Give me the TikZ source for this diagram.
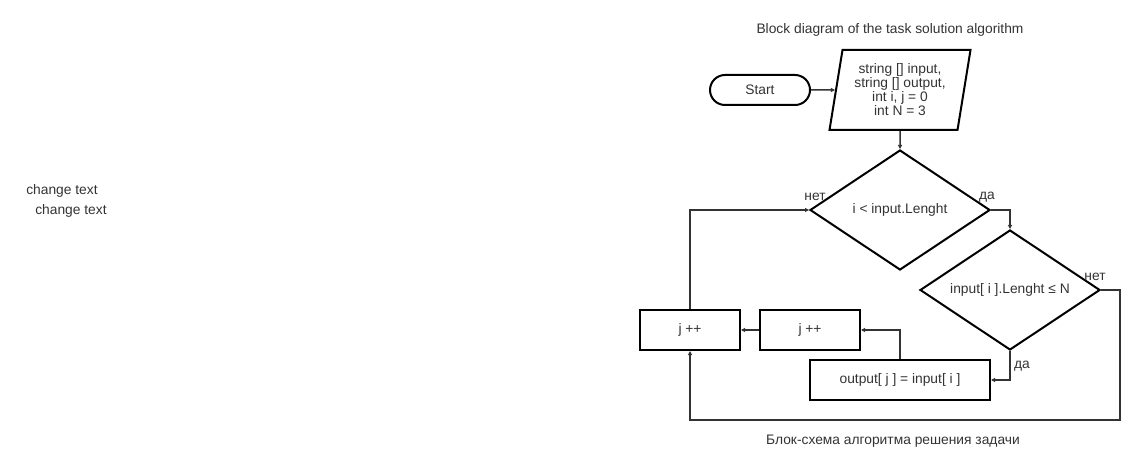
\documentclass[tikz,border=0pt]{standalone}
\usepackage{fontspec}
\setmainfont{Liberation Sans}
\usetikzlibrary{shapes.geometric,shapes.misc,arrows.meta}
\definecolor{linegray}{HTML}{333333}
\begin{document}
\begin{tikzpicture}[x=1pt,y=-1pt,
    font=\fontsize{13.8}{14}\selectfont,text=linegray,
    blockbox/.style={draw=black,line width=2pt,inner sep=0pt,align=center},
    procbox/.style={blockbox,rectangle,minimum height=40pt},
    testbox/.style={blockbox,diamond,aspect=1.5,minimum width=180pt,minimum height=120pt},
    link/.style={draw=linegray,line width=1.5pt,-{Triangle[length=4pt,width=4pt]}}]
  \useasboundingbox (0,0) rectangle (1140,470);
  \node (title) at (890,30) {Block diagram of the task solution algorithm};
  \node[blockbox,rounded rectangle,minimum width=100pt,minimum height=30pt] (start) at (760,90) {Start};
  \node[blockbox,trapezium,trapezium left angle=76,trapezium right angle=104,
        trapezium stretches body,minimum width=141pt,minimum height=80pt] (vars) at (900,90)
        {string [] input,\\string [] output,\\int i, j = 0\\int N = 3};
  \node[testbox] (loop) at (900,210) {i < input.Lenght};
  \node[testbox] (check) at (1010,290) {input[ i ].Lenght ≤ N};
  \node[procbox,minimum width=180pt] (copy) at (900,380) {output[ j ] = input[ i ]};
  \node[procbox,minimum width=100pt] (incj) at (810,330) {j ++};
  \node[procbox,minimum width=100pt] (inci) at (690,330) {j ++};
  \coordinate (back) at (1120,420);
  \draw[link] (start) -- (vars);
  \draw[link] (vars.south) -- (loop.north);
  \draw[link] (loop.east) -| (check.north);
  \draw[link] (check.south) |- (copy.east);
  \draw[link] (copy.north) |- (incj.east);
  \draw[link] (incj) -- (inci);
  \draw[link] (inci.north) |- (loop.west);
  \draw[link] (check.east) -| (back) -| (inci.south);
  \node (no1) at (815,197) {нет};
  \node (yes1) at (987,197) {да};
  \node (no2) at (1095,277) {нет};
  \node (yes2) at (1022,366) {да};
  \node (caption) at (893,441) {Блок-схема алгоритма решения задачи};
  \node (note1) at (62,191) {change text};
  \node (note2) at (71,211) {change text};
\end{tikzpicture}
\end{document}
